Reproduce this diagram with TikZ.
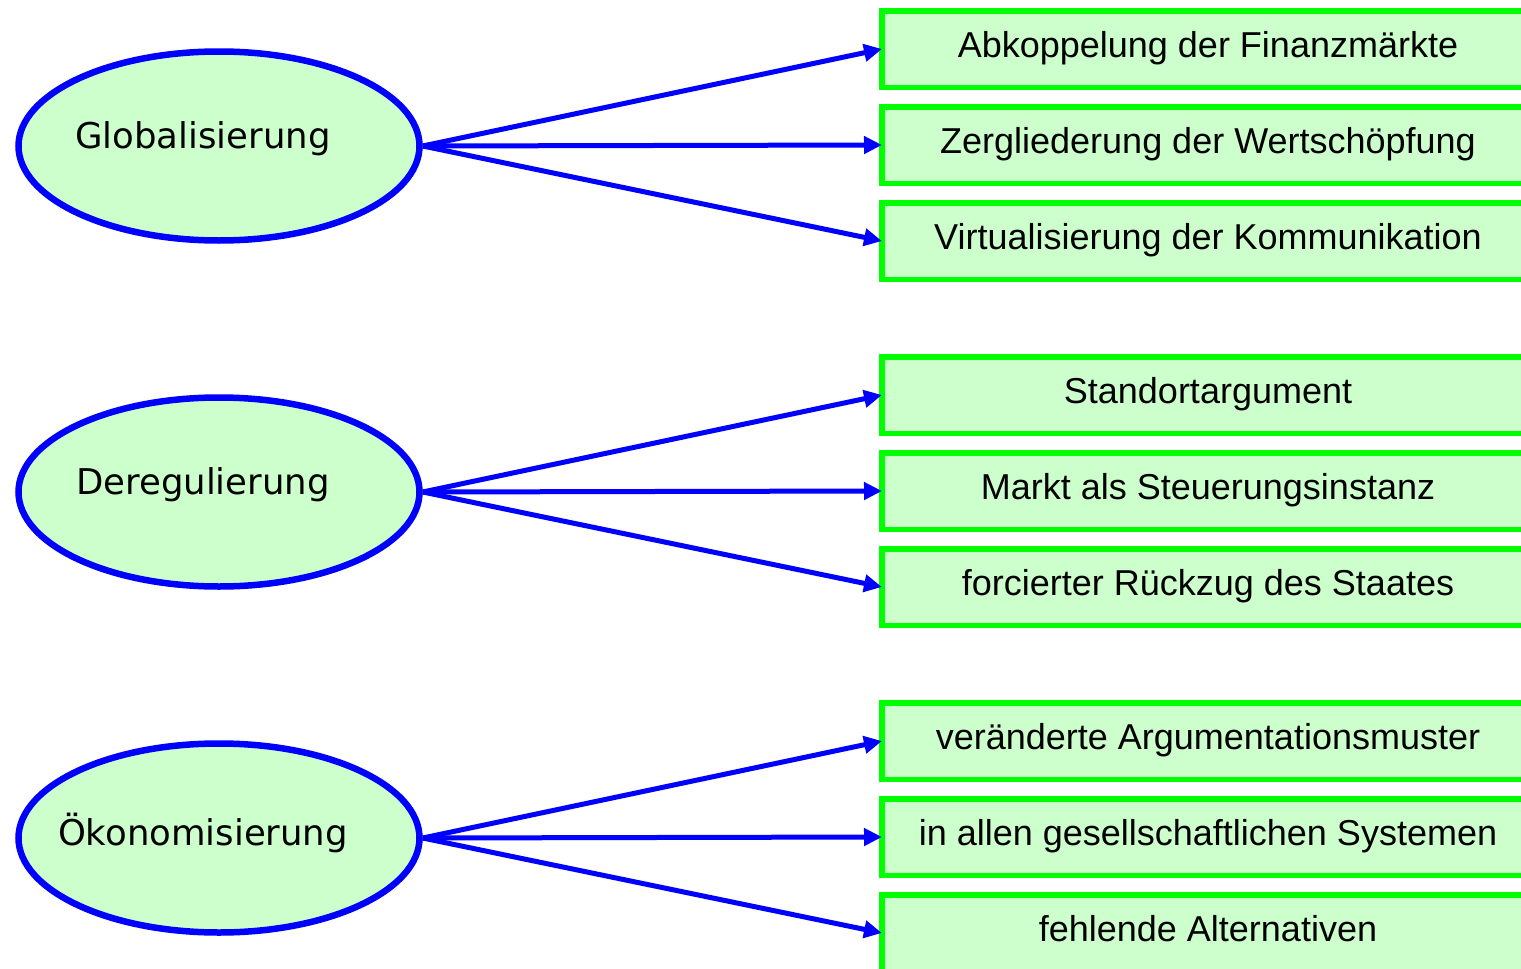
\documentclass[tikz,border=0pt]{standalone}
\usepackage{fontspec}
\setmainfont{Liberation Sans}
\newfontfamily\ellfont{DejaVu Sans}
\usetikzlibrary{arrows.meta,shapes.geometric}
\definecolor{fillgreen}{HTML}{CCFFCC}
\definecolor{boxgreen}{HTML}{00FF00}
\definecolor{arrowblue}{HTML}{0000FF}
\begin{document}
\begin{tikzpicture}[x=1pt,y=-1pt,
  ell/.style={ellipse,draw=arrowblue,line width=6.5pt,fill=fillgreen,minimum width=401pt,minimum height=189pt,inner sep=0pt},
  elltext/.style={anchor=base,font=\ellfont\fontsize{35.5}{42}\selectfont,inner sep=0pt},
  boxnode/.style={rectangle,draw=boxgreen,line width=5.5pt,fill=fillgreen,minimum width=652pt,minimum height=76.5pt,outer sep=0pt,anchor=west,text height=26pt,text depth=10pt,font=\fontsize{36}{42}\selectfont},
  arr/.style={draw=arrowblue,line width=5pt,-{Triangle[length=18pt,width=17pt]}}
]
\useasboundingbox (0,0) rectangle (1521,969);
\clip (0,0) rectangle (1521,969);
\fill[white] (0,0) rectangle (1521,969);

\node[ell] (e1) at (219,146) {};
\node[ell] (e2) at (219,492) {};
\node[ell] (e3) at (219,838) {};
\node[elltext] (e1t) at (203,148) {Globalisierung};
\node[elltext] (e2t) at (203,494) {Deregulierung};
\node[elltext] (e3t) at (203,845) {Ökonomisierung};

\node[boxnode] (b1) at (882,49) {Abkoppelung der Finanzmärkte};
\node[boxnode] (b2) at (882,145) {Zergliederung der Wertschöpfung};
\node[boxnode] (b3) at (882,241) {Virtualisierung der Kommunikation};
\node[boxnode] (b4) at (882,395) {Standortargument};
\node[boxnode] (b5) at (882,491) {Markt als Steuerungsinstanz};
\node[boxnode] (b6) at (882,587) {forcierter Rückzug des Staates};
\node[boxnode] (b7) at (882,741) {veränderte Argumentationsmuster};
\node[boxnode] (b8) at (882,837) {in allen gesellschaftlichen Systemen};
\node[boxnode] (b9) at (882,933) {fehlende Alternativen};

\draw[arr] (e1.east) -- (b1.west);
\draw[arr] (e1.east) -- (b2.west);
\draw[arr] (e1.east) -- (b3.west);
\draw[arr] (e2.east) -- (b4.west);
\draw[arr] (e2.east) -- (b5.west);
\draw[arr] (e2.east) -- (b6.west);
\draw[arr] (e3.east) -- (b7.west);
\draw[arr] (e3.east) -- (b8.west);
\draw[arr] (e3.east) -- (b9.west);
\end{tikzpicture}
\end{document}
